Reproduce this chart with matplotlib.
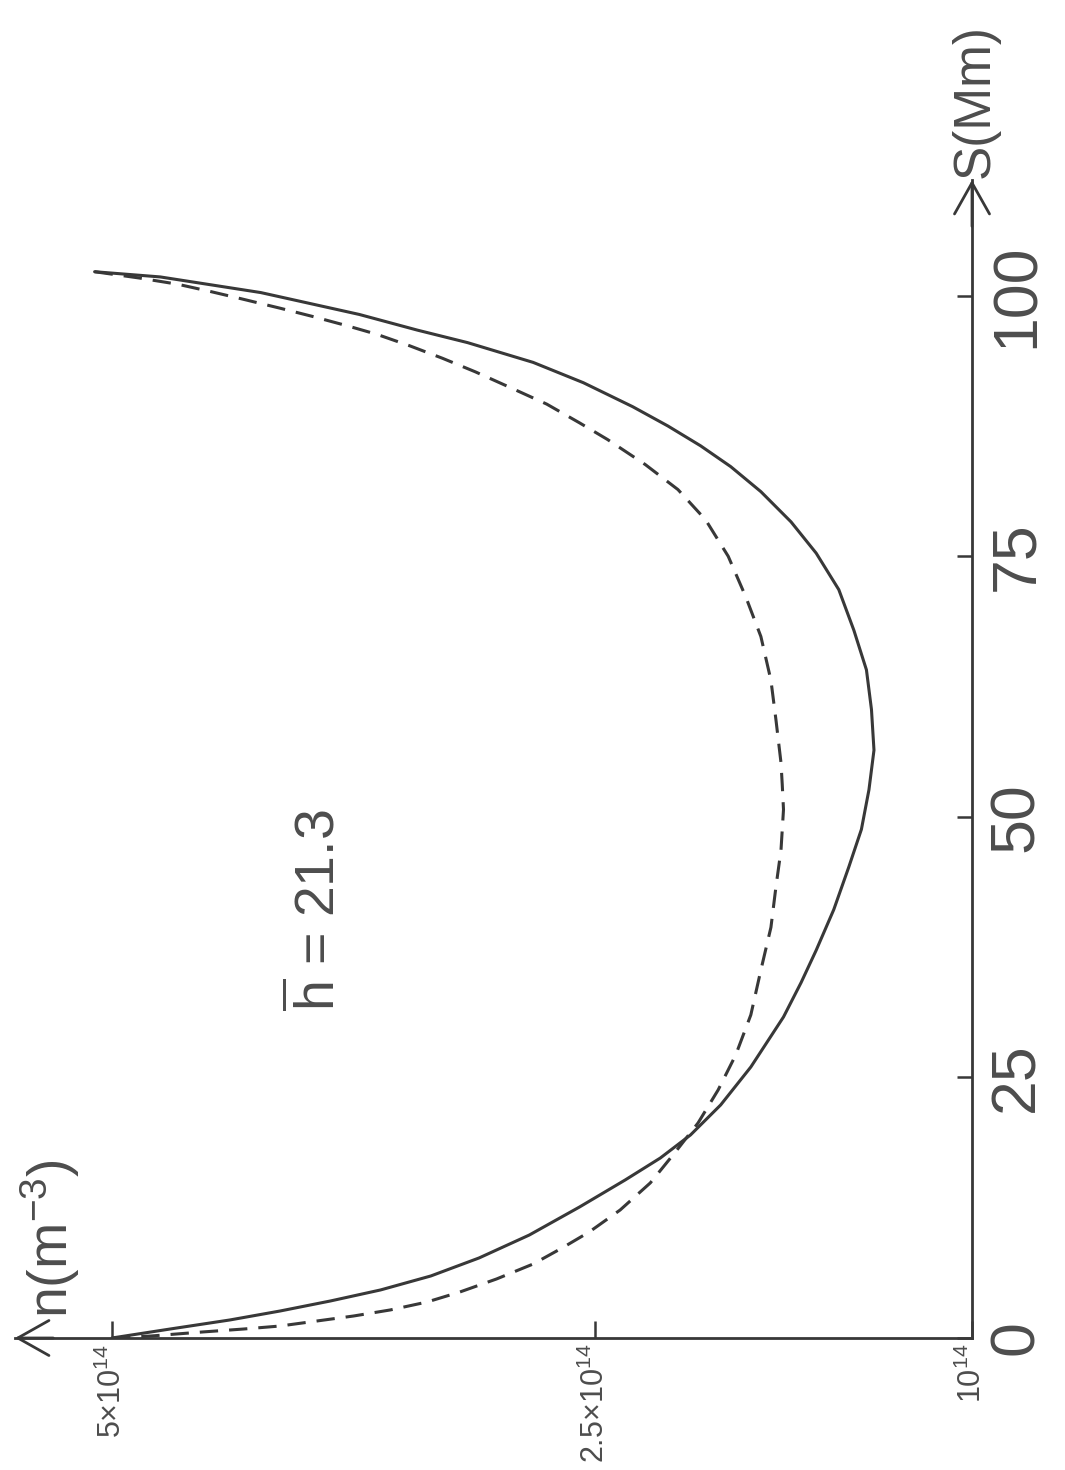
import numpy as np
import matplotlib
matplotlib.use("Agg")
import matplotlib.pyplot as plt

# Density profiles along the loop: S in Mm, n in units of 1e14 m^-3
s_solid = [0.0, 0.86, 1.73, 2.59, 3.55, 4.61, 5.95, 7.68, 9.88, 12.57, 15.16,
           17.27, 19.48, 22.36, 26.0, 30.8, 34.1, 37.2, 41.1, 45.2, 48.8, 52.6,
           56.4, 60.3, 64.1, 67.9, 71.8, 75.3, 78.3, 81.2, 83.6, 85.6, 87.5,
           89.35, 91.65, 93.6, 95.5, 96.7, 98.2, 100.3, 101.8, 102.3]
n_solid = [5.00, 4.70, 4.39, 4.13, 3.87, 3.61, 3.35, 3.10, 2.84, 2.58, 2.38,
           2.24, 2.12, 2.00, 1.88, 1.75, 1.68, 1.62, 1.55, 1.49, 1.44, 1.41,
           1.39, 1.40, 1.42, 1.47, 1.53, 1.62, 1.72, 1.84, 1.96, 2.08, 2.21,
           2.35, 2.56, 2.82, 3.16, 3.42, 3.72, 4.23, 4.75, 5.09]

s_dashed = [0.0, 0.19, 0.58, 0.86, 1.15, 1.63, 2.11, 2.69, 3.45, 4.41, 5.66,
            7.10, 8.64, 10.17, 12.28, 14.88, 17.85, 20.63, 23.8, 27.16, 31.0,
            35.3, 39.4, 43.3, 46.8, 50.7, 53.1, 55.2, 59.3, 63.1, 67.3, 71.1,
            75.0, 78.5, 81.4, 83.8, 86.2, 87.8, 89.6, 91.2, 92.7, 94.0, 95.2,
            96.3, 97.1, 98.0, 98.8, 99.7, 100.4, 101.1, 101.7, 102.3]
n_dashed = [5.00, 4.80, 4.53, 4.32, 4.13, 3.94, 3.75, 3.56, 3.37, 3.20, 3.01,
            2.82, 2.67, 2.53, 2.40, 2.28, 2.18, 2.09, 2.01, 1.94, 1.88, 1.84,
            1.80, 1.78, 1.76, 1.75, 1.755, 1.76, 1.78, 1.80, 1.84, 1.90, 1.97,
            2.06, 2.17, 2.30, 2.45, 2.58, 2.75, 2.94, 3.12, 3.29, 3.46, 3.63,
            3.78, 3.96, 4.13, 4.33, 4.49, 4.66, 4.86, 5.09]

s_ticks = [0, 25, 50, 75, 100]
s_tick_labels = ["0", "25", "50", "75", "100"]
n_ticks = [1.0, 2.5, 5.0]
n_tick_labels = [r"$10^{14}$", r"$2.5{\times}10^{14}$", r"$5{\times}10^{14}$"]

FONT = ["Liberation Sans", "DejaVu Sans"]
plt.rcParams["font.family"] = FONT
plt.rcParams["mathtext.fontset"] = "custom"
plt.rcParams["mathtext.rm"] = "Liberation Sans"
plt.rcParams["mathtext.it"] = "Liberation Sans"
plt.rcParams["mathtext.bf"] = "Liberation Sans"
plt.rcParams["mathtext.sf"] = "Liberation Sans"

INK = "#383838"
TXT = "#4d4d4d"


# The density axis is hand-graduated: 1 -> 2.5 and 2.5 -> 5 have their own spacing
def n_to_pos(n):
    n = np.asarray(n, dtype=float)
    return np.where(n < 2.5, (n - 1.0) * 377.0 / 1.5, 377.0 + (n - 2.5) * 483.0 / 2.5)


def pos_to_n(t):
    t = np.asarray(t, dtype=float)
    return np.where(t < 377.0, 1.0 + t * 1.5 / 377.0, 2.5 + (t - 377.0) * 2.5 / 483.0)


W, H = 1065, 1470
fig = plt.figure(figsize=(W / 100, H / 100), dpi=100)
fig.patch.set_facecolor("white")
ax = fig.add_axes([15 / W, 132 / H, 957 / W, 1158 / H])
ax.set_xscale("function", functions=(n_to_pos, pos_to_n))
ax.set_xlim(float(pos_to_n(957.0)), 1.0)
ax.set_ylim(0, 111.1)

ax.plot(n_solid, s_solid, color=INK, lw=2.2, solid_joinstyle="round",
        solid_capstyle="round")
ax.plot(n_dashed, s_dashed, color=INK, lw=2.2, dashes=(6, 3.6))

for side in ("left", "top"):
    ax.spines[side].set_visible(False)
for side in ("right", "bottom"):
    ax.spines[side].set_color(INK)
    ax.spines[side].set_linewidth(2.0)

ax.yaxis.tick_right()
ax.set_yticks(s_ticks)
ax.set_yticklabels(s_tick_labels)
ax.tick_params(axis="y", direction="in", length=11, width=1.8, pad=11,
               labelsize=45, labelrotation=90, colors=INK, labelcolor=TXT)
for lbl in ax.get_yticklabels():
    lbl.set_va("center")

ax.set_xticks(n_ticks)
ax.set_xticklabels(n_tick_labels)
ax.xaxis.set_minor_locator(plt.NullLocator())
ax.tick_params(axis="x", direction="in", length=12, width=1.8, pad=4,
               labelsize=22, labelrotation=90, colors=INK, labelcolor=TXT)

# open arrow heads at the ends of both axes
head = dict(arrowstyle="->,head_length=0.8,head_width=0.45", lw=2.0,
            color=INK, mutation_scale=28, shrinkA=0, shrinkB=0)
ax.annotate("", xy=(0, 0), xycoords="axes fraction", xytext=(0.04, 0),
            arrowprops=head, annotation_clip=False)
ax.annotate("", xy=(1, 1), xycoords="axes fraction", xytext=(1, 0.96),
            arrowprops=head, annotation_clip=False)

fig.text(50 / W, 1 - 1318 / H, r"n(m$^{-3}$)", rotation=90, ha="center",
         va="bottom", fontsize=40, color=TXT)
fig.text(975 / W, 1 - 178 / H, "S(Mm)", rotation=90, ha="center",
         va="bottom", fontsize=37, color=TXT)
fig.text(318 / W, 1 - 910 / H, r"$\overline{\mathrm{h}}$ = 21.3", rotation=90,
         ha="center", va="center", fontsize=40, color=TXT)

fig.savefig("out.png", dpi=100, facecolor="white")
